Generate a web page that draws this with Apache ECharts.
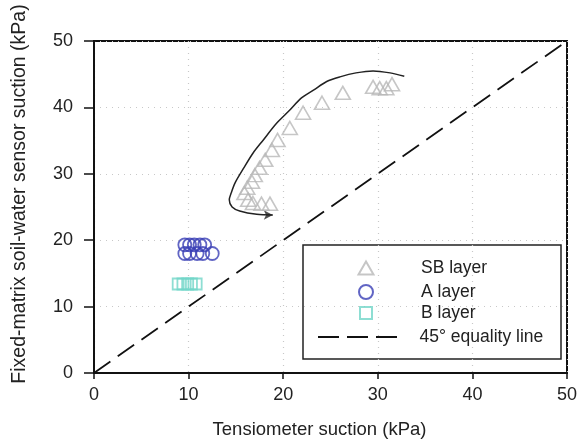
<!DOCTYPE html>
<html><head><meta charset="utf-8">
<script src="https://cdn.jsdelivr.net/npm/echarts@6/dist/echarts.min.js"></script>
<style>html,body{margin:0;padding:0;background:#fff}#c{width:585px;height:445px}</style>
</head><body><div id="c"></div>
<script>
var sbLayer = [[18.6,25.5],[17.7,25.5],[16.8,25.6],[16.3,26.1],[15.9,27.1],[16.2,27.9],[16.7,28.8],[17.0,29.8],[17.5,30.9],[18.1,32.1],[18.8,33.6],[19.4,35.1],[20.7,36.9],[22.1,39.2],[24.1,40.7],[26.3,42.2],[29.5,43.1],[30.2,42.9],[30.9,42.9],[31.5,43.5]];
var aLayer = [[9.6,19.3],[10.1,19.3],[10.6,19.3],[11.2,19.3],[11.7,19.3],[9.6,18.0],[10.1,18.0],[10.9,18.0],[11.5,18.0],[12.5,18.0]];
var bLayer = [[8.9,13.4],[9.4,13.4],[9.9,13.4],[10.3,13.4],[10.8,13.4]];
var equalityLine = [[0,0],[50,50]];
var arrowCurve = [[32.8,44.7],[31.3,45.2],[29.5,45.5],[27.7,45.2],[26.0,44.6],[24.6,43.9],[23.2,42.6],[21.9,41.4],[20.7,39.6],[19.3,37.6],[17.9,35.1],[16.8,33.1],[15.8,30.8],[14.9,28.6],[14.5,27.1],[14.3,26.1],[14.6,25.0],[15.4,24.4],[17.2,23.9],[18.9,23.8]];
var arrowHead = [[18.9,23.8]];
var ticks = [0,10,20,30,40,50];
var seriesNames = ['SB layer','A layer','B layer','45\u00b0 equality line'];

var font = 'Liberation Sans, Arial, sans-serif';
var chart = echarts.init(document.getElementById('c'), null, {renderer:'canvas'});
function leg(name, left, centerY, w, h, pad, icon){
  return {data:[icon?{name:name, icon:icon}:{name:name}], left:left, top:centerY-9, padding:0, itemWidth:w, itemHeight:h, selectedMode:false,
    textStyle:{fontFamily:font, fontSize:17.5, lineHeight:18, color:'#222', padding:[0,0,0,pad]}};
}
var dashIcon = 'path://M0,0L21,0L21,2L0,2Z M29,0L50,0L50,2L29,2Z M58,0L79,0L79,2L58,2Z';
chart.setOption({
  animation:false,
  grid:{left:94, right:18, top:41, bottom:72, show:true, borderColor:'#111', borderWidth:2},
  xAxis:{type:'value', min:0, max:50, interval:10,
    name:'Tensiometer suction (kPa)', nameLocation:'middle', nameGap:47,
    nameTextStyle:{fontFamily:font, fontSize:18.5, color:'#222', padding:[0,22,0,0]},
    axisLine:{show:true, onZero:false, lineStyle:{color:'#111', width:2}},
    axisTick:{show:true, length:6, lineStyle:{color:'#111', width:1.5}},
    axisLabel:{fontFamily:font, fontSize:18, color:'#222', margin:13, formatter:function(v){return ticks.indexOf(v)>=0?String(v):'';}},
    splitLine:{show:true, lineStyle:{color:'#c8c8c8', type:[1,5], width:1.2}}},
  yAxis:{type:'value', min:0, max:50, interval:10,
    name:'Fixed-matrix soil-water sensor suction (kPa)', nameLocation:'middle', nameGap:64,
    nameTextStyle:{fontFamily:font, fontSize:19.5, color:'#222', padding:[0,0,0,26]},
    axisLine:{show:true, onZero:false, lineStyle:{color:'#111', width:2}},
    axisTick:{show:true, length:10, lineStyle:{color:'#111', width:1.5}},
    axisLabel:{fontFamily:font, fontSize:18, color:'#222', margin:21},
    splitLine:{show:true, lineStyle:{color:'#c8c8c8', type:[1,5], width:1.2}}},
  legend:[
    leg(seriesNames[0], 357.5, 268, 15, 13, 42.5, 'triangle'),
    leg(seriesNames[1], 358, 292, 14, 14, 43, 'circle'),
    leg(seriesNames[2], 359, 313, 12, 12, 44, 'rect'),
    leg(seriesNames[3], 318, 337, 80, 2, 17, dashIcon)
  ],
  graphic:[{type:'rect', shape:{x:303, y:245, width:258, height:114}, style:{fill:'#fff', stroke:'#222', lineWidth:1.5}, z:0}],
  series:[
    {name:seriesNames[3], type:'line', data:equalityLine, symbol:'none', z:1,
      lineStyle:{color:'#111', width:1.8, type:[20,9]}, itemStyle:{color:'#111'}},
    {name:seriesNames[0], type:'scatter', data:sbLayer, symbol:'triangle', symbolSize:[15,13], z:3,
      itemStyle:{color:'rgba(255,255,255,0)', borderColor:'#b8b8b8', borderWidth:1.6}},
    {name:seriesNames[1], type:'scatter', data:aLayer, symbol:'circle', symbolSize:13, z:3,
      itemStyle:{color:'rgba(255,255,255,0)', borderColor:'#3a3fb5', borderWidth:1.8}},
    {name:seriesNames[2], type:'scatter', data:bLayer, symbol:'rect', symbolSize:11, z:3,
      itemStyle:{color:'rgba(255,255,255,0)', borderColor:'#72d6c8', borderWidth:1.8}},
    {name:'arrow', type:'line', data:arrowCurve, smooth:0.3, symbol:'none', z:2,
      lineStyle:{color:'#222', width:1.5}},
    {name:'arrowhead', type:'scatter', data:arrowHead, symbol:'arrow', symbolSize:[7,9], symbolRotate:-90, z:2,
      itemStyle:{color:'#222'}}
  ]
});
</script></body></html>
